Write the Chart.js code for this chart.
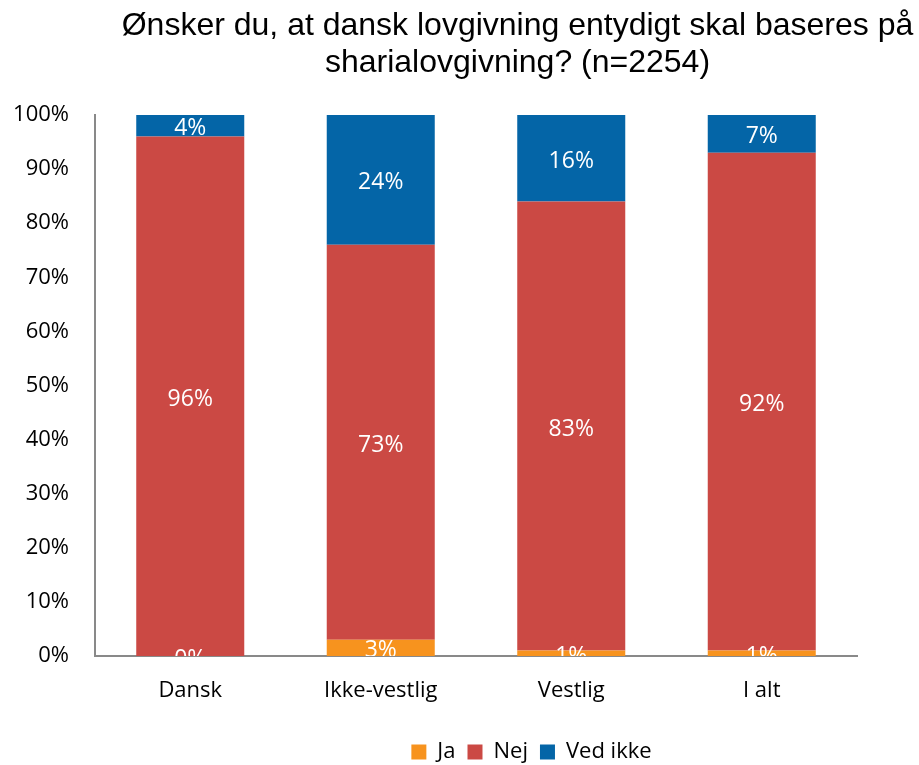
<!DOCTYPE html>
<html>
<head>
<meta charset="utf-8">
<script src="https://cdn.jsdelivr.net/npm/chart.js@4/dist/chart.umd.min.js"></script>
<style>
    html, body { margin: 0; padding: 0; background: #fff; }
    #wrap { width: 919px; height: 765px; }
</style>
</head>
<body>
<div id="wrap"><canvas id="surveyChart" width="919" height="765"></canvas></div>
<script>
// Chart data
const categories = ['Dansk', 'Ikke-vestlig', 'Vestlig', 'I alt'];
const jaValues = [0, 3, 1, 1];
const nejValues = [96, 73, 83, 92];
const vedIkkeValues = [4, 24, 16, 7];
const yTicks = [0, 10, 20, 30, 40, 50, 60, 70, 80, 90, 100];
const titleLines = ['Ønsker du, at dansk lovgivning entydigt skal baseres på', 'sharialovgivning? (n=2254)'];

const labelFont = '"Open Sans", Lato, sans-serif';

// Draw value labels centred in each segment, clipped to the plot area
const segmentLabels = {
    id: 'segmentLabels',
    afterDatasetsDraw(chart) {
        const ctx = chart.ctx;
        const area = chart.chartArea;
        ctx.save();
        ctx.beginPath();
        ctx.rect(area.left, area.top, area.right - area.left, area.bottom - area.top);
        ctx.clip();
        ctx.fillStyle = '#ffffff';
        ctx.font = '23px ' + labelFont;
        ctx.textAlign = 'center';
        ctx.textBaseline = 'middle';
        chart.data.datasets.forEach((ds, i) => {
            const meta = chart.getDatasetMeta(i);
            meta.data.forEach((bar, j) => {
                const mid = (bar.y + bar.base) / 2 + 3;
                ctx.fillText(ds.data[j] + '%', bar.x, mid);
            });
        });
        ctx.restore();
    }
};

// Nudge title and legend like the original
const shiftBoxes = {
    id: 'shiftBoxes',
    afterLayout(chart) {
        const t = chart.titleBlock;
        if (t) { t.left += 89; t.right += 89; }
        const l = chart.legend;
        if (l) { l.left += 103; l.right += 103; l.top += 8; l.bottom += 8; }
    }
};

const ctx = document.getElementById('surveyChart').getContext('2d');
new Chart(ctx, {
    type: 'bar',
    data: {
        labels: categories,
        datasets: [
            { label: 'Ja', data: jaValues, backgroundColor: '#F7931E', borderWidth: 0 },
            { label: 'Nej', data: nejValues, backgroundColor: '#CB4944', borderWidth: 0 },
            { label: 'Ved ikke', data: vedIkkeValues, backgroundColor: '#0465A7', borderWidth: 0 }
        ]
    },
    options: {
        responsive: false,
        animation: false,
        layout: { padding: { left: 0, right: 62, top: 0, bottom: 0 } },
        categoryPercentage: 1,
        barPercentage: 0.567,
        plugins: {
            title: {
                display: true,
                text: titleLines,
                color: '#000',
                font: { family: '"Liberation Sans", Arial, sans-serif', size: 32, weight: 'normal', lineHeight: 1.156 },
                padding: { top: 8, bottom: 33 }
            },
            legend: {
                position: 'bottom',
                labels: {
                    color: '#000',
                    boxWidth: 15,
                    boxHeight: 15,
                    padding: 12,
                    font: { family: labelFont, size: 22 }
                }
            },
            tooltip: { enabled: false }
        },
        scales: {
            x: {
                stacked: true,
                grid: { display: false, drawTicks: false },
                border: { display: true, color: '#898989', width: 2 },
                ticks: { color: '#000', padding: 22, font: { family: labelFont, size: 22 } },
                afterFit(scale) { scale.height = 65; }
            },
            y: {
                stacked: true,
                min: 0,
                max: 100,
                afterBuildTicks(scale) { scale.ticks = yTicks.map(v => ({ value: v })); },
                grid: { display: false, drawTicks: false },
                border: { display: true, color: '#898989', width: 2 },
                ticks: {
                    color: '#000',
                    padding: 26,
                    font: { family: labelFont, size: 22 },
                    callback: function(value) { return value + '%'; }
                },
                afterFit(scale) { scale.width = 95; }
            }
        }
    },
    plugins: [segmentLabels, shiftBoxes]
});
</script>
</body>
</html>
